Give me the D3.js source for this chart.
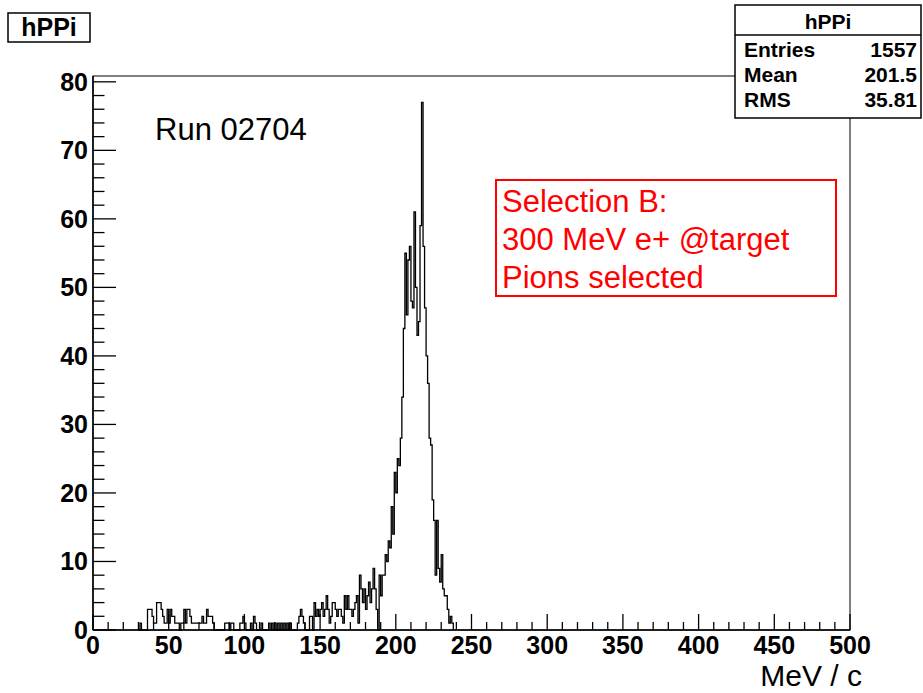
<!DOCTYPE html>
<html lang="en">
<head>
    <meta charset="UTF-8">
    <title>hPPi</title>
    <script src="https://d3js.org/d3.v7.min.js"></script>
    <style>
        body { margin: 0; background: white; }
        text { font-family: "Liberation Sans", Arial, sans-serif; }
        .bold { font-family: "Liberation Sans Narrow", "Liberation Sans", Arial, sans-serif; font-weight: bold; }
    </style>
</head>
<body>
    <svg id="hist"></svg>

    <script>
        // histogram hPPi, 1 MeV bins, first bin starts at binStart
        const binStart = 30;
        const binWidth = 1;
        const counts = [
            0, 1, 0, 0, 0, 0, 3, 3, 3, 2,      // 30-39
            1, 1, 4, 4, 4, 3, 2, 1, 1, 3,      // 40-49
            1, 3, 2, 2, 1, 1, 1, 0, 1, 1,      // 50-59
            3, 1, 3, 3, 2, 1, 1, 1, 1, 1,      // 60-69
            1, 1, 2, 1, 1, 3, 2, 2, 2, 1,      // 70-79
            0, 0, 0, 0, 0, 0, 0, 1, 1, 1,      // 80-89
            0, 1, 1, 0, 0, 0, 0, 1, 1, 2,      // 90-99
            1, 0, 0, 0, 1, 0, 2, 1, 0, 0,      // 100-109
            0, 1, 0, 0, 0, 0, 1, 0, 1, 0,      // 110-119
            1, 0, 1, 0, 1, 0, 1, 0, 1, 0,      // 120-129
            1, 0, 0, 0, 0, 1, 2, 3, 2, 1,      // 130-139
            0, 0, 0, 2, 2, 0, 4, 2, 3, 2,      // 140-149
            3, 4, 2, 3, 5, 3, 1, 2, 4, 4,      // 150-159
            3, 2, 3, 3, 2, 1, 5, 3, 5, 3,      // 160-169
            3, 2, 3, 4, 5, 1, 8, 6, 4, 6,      // 170-179
            3, 5, 7, 4, 6, 9, 6, 3, 0, 8,      // 180-189
            5, 8, 8, 11, 10, 13, 12, 18, 14, 23, // 190-199
            20, 25, 24, 28, 34, 44, 55, 46, 54, 56, // 200-209
            48, 47, 61, 50, 43, 45, 59, 77, 56, 47, // 210-219
            40, 36, 28, 27, 19, 16, 8, 16, 9, 7,   // 220-229
            11, 6, 5, 5, 3, 1, 2, 1              // 230-237
        ];

        const histName = "hPPi";
        const statLabels = ["Entries", "Mean", "RMS"];
        const statValues = ["1557", "201.5", "35.81"];
        const runLabel = "Run 02704";
        const noteLines = ["Selection B:", "300 MeV e+ @target", "Pions selected"];
        const xTitle = "MeV / c";

        const xMin = 0, xMax = 500;
        const yMax = 80.85;

        const width = 923, height = 693;
        const frame = { left: 93, right: 850, top: 76, bottom: 630 };

        const svg = d3.select("#hist")
            .attr("width", width)
            .attr("height", height);

        const x = d3.scaleLinear().domain([xMin, xMax]).range([frame.left, frame.right]);
        const y = d3.scaleLinear().domain([0, yMax]).range([frame.bottom, frame.top]);

        // frame
        svg.append("rect")
            .attr("x", frame.left).attr("y", frame.top)
            .attr("width", frame.right - frame.left)
            .attr("height", frame.bottom - frame.top)
            .attr("fill", "white").attr("stroke", "black").attr("stroke-width", 1);

        // histogram outline
        const pts = [[binStart, 0]];
        counts.forEach((c, i) => {
            const lo = binStart + i * binWidth;
            pts.push([lo, c], [lo + binWidth, c]);
        });
        pts.push([binStart + counts.length * binWidth, 0]);

        svg.append("path")
            .attr("d", d3.line().x(d => x(d[0])).y(d => y(d[1]))(pts))
            .attr("fill", "none")
            .attr("stroke", "black")
            .attr("stroke-width", 1.3);

        // x axis, ticks inside the frame
        const xAxis = svg.append("g").attr("transform", `translate(0,${frame.bottom})`);
        xAxis.append("line")
            .attr("x1", frame.left).attr("x2", frame.right)
            .attr("stroke", "black").attr("stroke-width", 1.5);
        xAxis.selectAll(".minor")
            .data(d3.range(xMin, xMax + 1, 10))
            .join("line")
            .attr("x1", d => x(d)).attr("x2", d => x(d))
            .attr("y1", 0).attr("y2", d => d % 50 === 0 ? -16 : -8)
            .attr("stroke", "black").attr("stroke-width", 1.3);
        xAxis.selectAll("text")
            .data(d3.range(xMin, xMax + 1, 50))
            .join("text")
            .attr("class", "bold")
            .attr("x", d => x(d)).attr("y", 24)
            .attr("text-anchor", "middle")
            .style("font-size", "25px")
            .text(d => d);

        // y axis
        const yAxis = svg.append("g").attr("transform", `translate(${frame.left},0)`);
        yAxis.append("line")
            .attr("y1", frame.top).attr("y2", frame.bottom)
            .attr("stroke", "black").attr("stroke-width", 1.5);
        yAxis.selectAll(".tick")
            .data(d3.range(0, yMax, 2))
            .join("line")
            .attr("y1", d => y(d)).attr("y2", d => y(d))
            .attr("x1", 0).attr("x2", d => d % 10 === 0 ? 23 : 11.5)
            .attr("stroke", "black").attr("stroke-width", 1.3);
        yAxis.selectAll("text")
            .data(d3.range(0, 81, 10))
            .join("text")
            .attr("class", "bold")
            .attr("x", -5).attr("y", d => y(d) + 9)
            .attr("text-anchor", "end")
            .style("font-size", "25px")
            .text(d => d);

        // axis title
        svg.append("text")
            .attr("x", 862).attr("y", 686)
            .attr("text-anchor", "end")
            .style("font-size", "30px")
            .text(xTitle);

        // run label
        svg.append("text")
            .attr("x", 155).attr("y", 140)
            .style("font-size", "31px")
            .text(runLabel);

        // red note box
        svg.append("rect")
            .attr("x", 496).attr("y", 180)
            .attr("width", 340).attr("height", 116)
            .attr("fill", "none").attr("stroke", "#ff0000").attr("stroke-width", 2);
        svg.selectAll(".note")
            .data(noteLines)
            .join("text")
            .attr("x", 502).attr("y", (d, i) => 212 + i * 38)
            .attr("fill", "#ff0000")
            .style("font-size", "31px")
            .text(d => d);

        // title box
        svg.append("rect")
            .attr("x", 8).attr("y", 13).attr("width", 82).attr("height", 29)
            .attr("fill", "white").attr("stroke", "black").attr("stroke-width", 1.5);
        svg.append("text")
            .attr("class", "bold")
            .attr("x", 49).attr("y", 36)
            .attr("text-anchor", "middle")
            .style("font-size", "25px")
            .text(histName);

        // stats box
        const stats = svg.append("g");
        stats.append("rect")
            .attr("x", 735).attr("y", 5).attr("width", 186).attr("height", 113)
            .attr("fill", "white").attr("stroke", "black").attr("stroke-width", 1.5);
        stats.append("line")
            .attr("x1", 735).attr("x2", 921).attr("y1", 35).attr("y2", 35)
            .attr("stroke", "black").attr("stroke-width", 1.3);
        stats.append("text")
            .attr("class", "bold")
            .attr("x", 828).attr("y", 29)
            .attr("text-anchor", "middle")
            .style("font-size", "21px")
            .text(histName);
        stats.selectAll(".lab")
            .data(statLabels)
            .join("text")
            .attr("class", "bold")
            .attr("x", 744).attr("y", (d, i) => 57 + i * 25)
            .style("font-size", "21px")
            .text(d => d);
        stats.selectAll(".val")
            .data(statValues)
            .join("text")
            .attr("class", "bold")
            .attr("x", 917).attr("y", (d, i) => 57 + i * 25)
            .attr("text-anchor", "end")
            .style("font-size", "21px")
            .text(d => d);
    </script>
</body>
</html>
